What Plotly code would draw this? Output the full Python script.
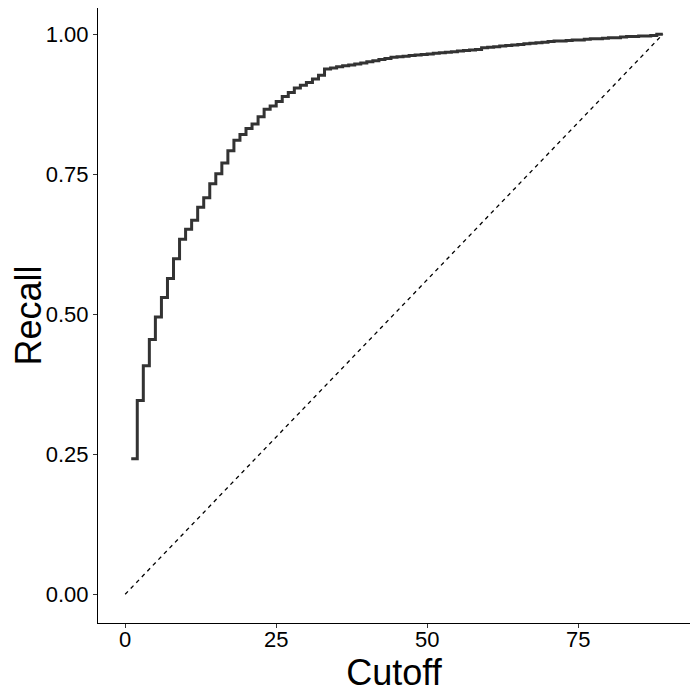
import plotly.graph_objects as go

LINE_COLOR = "#333333"
FONT = "Liberation Sans, Arial, sans-serif"

cutoff = list(range(1, 90))
recall = [
    0.242, 0.346, 0.408, 0.455, 0.495, 0.530, 0.564, 0.599, 0.634, 0.652,
    0.668, 0.691, 0.708, 0.733, 0.751, 0.770, 0.792, 0.811, 0.821, 0.832,
    0.840, 0.853, 0.866, 0.872, 0.880, 0.889, 0.896, 0.904, 0.909, 0.914,
    0.920, 0.927, 0.938, 0.940, 0.942, 0.944, 0.945, 0.947, 0.949, 0.951,
    0.953, 0.955, 0.957, 0.959, 0.960, 0.961, 0.962, 0.963, 0.964, 0.965,
    0.966, 0.967, 0.968, 0.969, 0.970, 0.971, 0.972, 0.973, 0.976, 0.977,
    0.978, 0.979, 0.980, 0.981, 0.982, 0.983, 0.984, 0.985, 0.986, 0.987,
    0.988, 0.988, 0.989, 0.990, 0.990, 0.991, 0.992, 0.992, 0.993, 0.994,
    0.994, 0.995, 0.996, 0.996, 0.997, 0.997, 0.998, 1.000, 1.000,
]

# reference diagonal (random classifier)
diag_x = [0, 89]
diag_y = [0, 1]

x_ticks = [0, 25, 50, 75]
y_ticks = [0, 0.25, 0.5, 0.75, 1.0]
y_labels = ["0.00", "0.25", "0.50", "0.75", "1.00"]

fig = go.Figure()

fig.add_trace(go.Scatter(
    x=cutoff,
    y=recall,
    mode="lines",
    line=dict(color=LINE_COLOR, width=3, shape="hv"),
    showlegend=False,
))

fig.add_trace(go.Scatter(
    x=diag_x,
    y=diag_y,
    mode="lines",
    line=dict(color="#000000", width=1.3, dash="4px,4px"),
    showlegend=False,
))

# page body adds an 8px margin, so the figure is 690 square
fig.update_layout(
    width=690,
    height=690,
    plot_bgcolor="#FFFFFF",
    paper_bgcolor="#FFFFFF",
    font=dict(family=FONT, color="#000000"),
    margin=dict(l=90, r=8, t=0, b=75),
    xaxis=dict(
        range=[-4.5, 93.5],
        tickvals=x_ticks,
        showgrid=False,
        zeroline=False,
        showline=True,
        linecolor="#000000",
        linewidth=1,
        ticks="outside",
        ticklen=4,
        tickcolor="#333333",
        ticklabelstandoff=-7,
        tickfont=dict(size=22, color="#000000"),
        title=dict(text="Cutoff", font=dict(size=36), standoff=0),
    ),
    yaxis=dict(
        range=[-0.0513, 1.047],
        tickvals=y_ticks,
        ticktext=y_labels,
        showgrid=False,
        zeroline=False,
        showline=True,
        linecolor="#000000",
        linewidth=1,
        ticks="outside",
        ticklen=4,
        tickcolor="#333333",
        tickfont=dict(size=22, color="#000000"),
        title=dict(text="Recall", font=dict(size=36), standoff=6),
    ),
)

fig.write_html("out.html")
